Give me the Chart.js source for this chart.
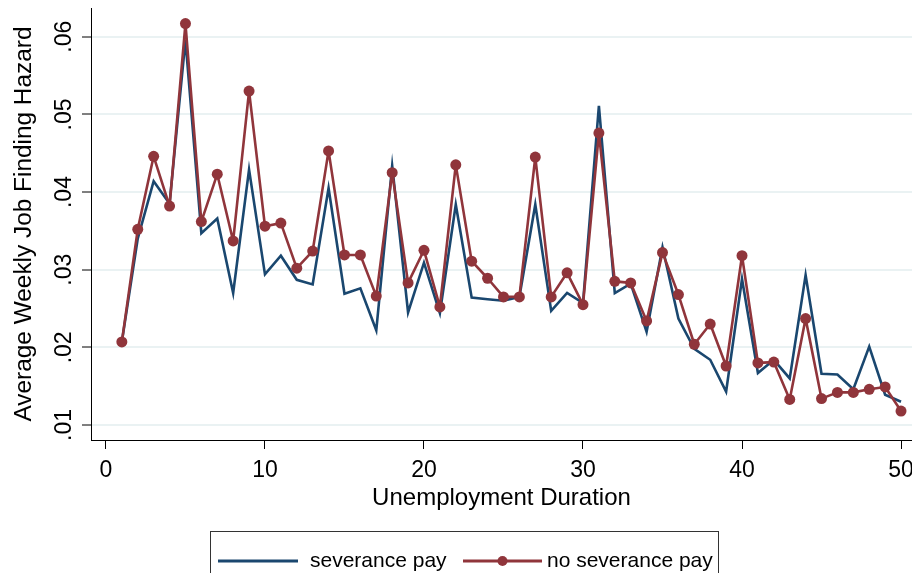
<!DOCTYPE html>
<html>
<head>
<meta charset="utf-8">
<script src="https://cdn.jsdelivr.net/npm/chart.js@4"></script>
<style>
  html, body { margin: 0; padding: 0; background: #fff; }
  canvas { display: block; }
</style>
</head>
<body>
<canvas id="myChart" width="912" height="573"></canvas>
<script>
const ctx = document.getElementById("myChart");

var weeks = [
  1, 2, 3, 4, 5, 6, 7, 8, 9, 10,
  11, 12, 13, 14, 15, 16, 17, 18, 19, 20,
  21, 22, 23, 24, 25, 26, 27, 28, 29, 30,
  31, 32, 33, 34, 35, 36, 37, 38, 39, 40,
  41, 42, 43, 44, 45, 46, 47, 48, 49, 50,
];
// severance pay
var sevPay = [
  0.0207, 0.034, 0.0414, 0.0385, 0.0596, 0.0347, 0.0366, 0.027, 0.0429, 0.0294,
  0.0318, 0.0287, 0.0281, 0.0405, 0.0269, 0.0276, 0.0222, 0.0434, 0.0245, 0.0309,
  0.0244, 0.0384, 0.0264, 0.0262, 0.026, 0.0265, 0.0384, 0.0247, 0.027, 0.0257,
  0.0511, 0.027, 0.0282, 0.022, 0.0329, 0.0237, 0.0198, 0.0184, 0.0143, 0.0288,
  0.0167, 0.0184, 0.016, 0.0293, 0.0166, 0.0165, 0.0146, 0.0201, 0.0139, 0.013,
];
// no severance pay
var noSevPay = [
  0.0207, 0.0352, 0.0446, 0.0382, 0.0617, 0.0362, 0.0423, 0.0337, 0.053, 0.0356,
  0.036, 0.0302, 0.0324, 0.0453, 0.0319, 0.0319, 0.0266, 0.0425, 0.0283, 0.0325,
  0.0252, 0.0435, 0.0311, 0.0289, 0.0265, 0.0265, 0.0445, 0.0265, 0.0296, 0.0255,
  0.0476, 0.0285, 0.0283, 0.0234, 0.0322, 0.0268, 0.0204, 0.023, 0.0176, 0.0318,
  0.018, 0.0181, 0.0133, 0.0237, 0.0134, 0.0142, 0.0142, 0.0146, 0.0149, 0.0118,
];
var xTicks = [0, 10, 20, 30, 40, 50];
var yTicks = [0.01, 0.02, 0.03, 0.04, 0.05, 0.06];
var seriesNames = ["severance pay", "no severance pay"];

var BLUE = "#1a476f";
var RED = "#90353b";
var FONT = "'Liberation Sans', Arial, sans-serif";

function toPoints(ys) {
  return weeks.map(function (w, i) {
    return { x: w, y: ys[i] };
  });
}

// no extra room for overhanging tick labels, the plot fills the canvas edge
function noOverhang(scale) {
  scale.paddingLeft = 0;
  scale.paddingRight = 0;
  scale.paddingTop = 0;
  scale.paddingBottom = 0;
}

// legend drawn by hand, stata style box at the bottom
const stataLegend = {
  id: "stataLegend",
  afterDraw: function (chart) {
    const c = chart.ctx;
    const midY = 561;
    c.save();
    c.strokeStyle = "#333";
    c.lineWidth = 1;
    c.strokeRect(210.5, 531.5, 508, 60);

    c.font = "21px " + FONT;
    c.fillStyle = "#000";
    c.textBaseline = "middle";
    c.textAlign = "left";

    c.lineWidth = 3;
    c.strokeStyle = BLUE;
    c.beginPath();
    c.moveTo(218, midY);
    c.lineTo(298, midY);
    c.stroke();
    c.fillText(seriesNames[0], 310, midY);

    c.strokeStyle = RED;
    c.beginPath();
    c.moveTo(463, midY);
    c.lineTo(542, midY);
    c.stroke();
    c.fillStyle = RED;
    c.beginPath();
    c.arc(502.5, midY, 5, 0, Math.PI * 2);
    c.fill();
    c.fillStyle = "#000";
    c.fillText(seriesNames[1], 547, midY);
    c.restore();
  },
};

new Chart(ctx, {
  type: "line",
  data: {
    datasets: [
      {
        label: seriesNames[0],
        data: toPoints(sevPay),
        borderColor: BLUE,
        backgroundColor: BLUE,
        borderWidth: 2.6,
        pointRadius: 0,
        tension: 0,
        order: 1,
      },
      {
        label: seriesNames[1],
        data: toPoints(noSevPay),
        borderColor: RED,
        backgroundColor: RED,
        borderWidth: 2.6,
        borderJoinStyle: "round",
        pointRadius: 5.5,
        pointBorderWidth: 0,
        pointBackgroundColor: RED,
        tension: 0,
        order: 0,
      },
    ],
  },
  options: {
    responsive: false,
    animation: false,
    layout: {
      autoPadding: false,
      padding: { top: 8, right: 0, bottom: 58, left: 0 },
    },
    plugins: {
      legend: { display: false },
      tooltip: { enabled: false },
    },
    scales: {
      x: {
        type: "linear",
        min: -0.94,
        max: 50.69,
        afterBuildTicks: function (scale) {
          scale.ticks = xTicks.map(function (v) {
            return { value: v };
          });
        },
        afterFit: function (scale) {
          scale.height = 75;
          noOverhang(scale);
        },
        border: { display: true, color: "#000", width: 1 },
        grid: {
          drawOnChartArea: false,
          drawTicks: true,
          tickLength: 9,
          tickColor: "#000",
          tickWidth: 1,
        },
        ticks: {
          color: "#000",
          padding: 8,
          maxRotation: 0,
          font: { family: FONT, size: 23 },
        },
        title: {
          display: true,
          text: "Unemployment Duration",
          color: "#000",
          padding: { top: 0, bottom: 2 },
          font: { family: FONT, size: 24 },
        },
      },
      y: {
        type: "linear",
        min: 0.00807,
        max: 0.0637,
        afterBuildTicks: function (scale) {
          scale.ticks = yTicks.map(function (v) {
            return { value: v };
          });
        },
        afterFit: function (scale) {
          scale.width = 91;
          noOverhang(scale);
        },
        border: { display: true, color: "#000", width: 1 },
        grid: {
          color: "#eaf2f3",
          lineWidth: 2,
          drawTicks: true,
          tickLength: 9,
          tickColor: "#000",
          tickWidth: 1,
        },
        ticks: {
          color: "#000",
          padding: 1,
          minRotation: 90,
          maxRotation: 90,
          crossAlign: "center",
          font: { family: FONT, size: 23 },
          callback: function (v) {
            return v.toFixed(2).replace(/^0/, "");
          },
        },
        title: {
          display: true,
          text: "Average Weekly Job Finding Hazard",
          color: "#000",
          padding: { top: 10, bottom: 0 },
          font: { family: FONT, size: 24.4 },
        },
      },
    },
  },
  plugins: [stataLegend],
});
</script>
</body>
</html>
